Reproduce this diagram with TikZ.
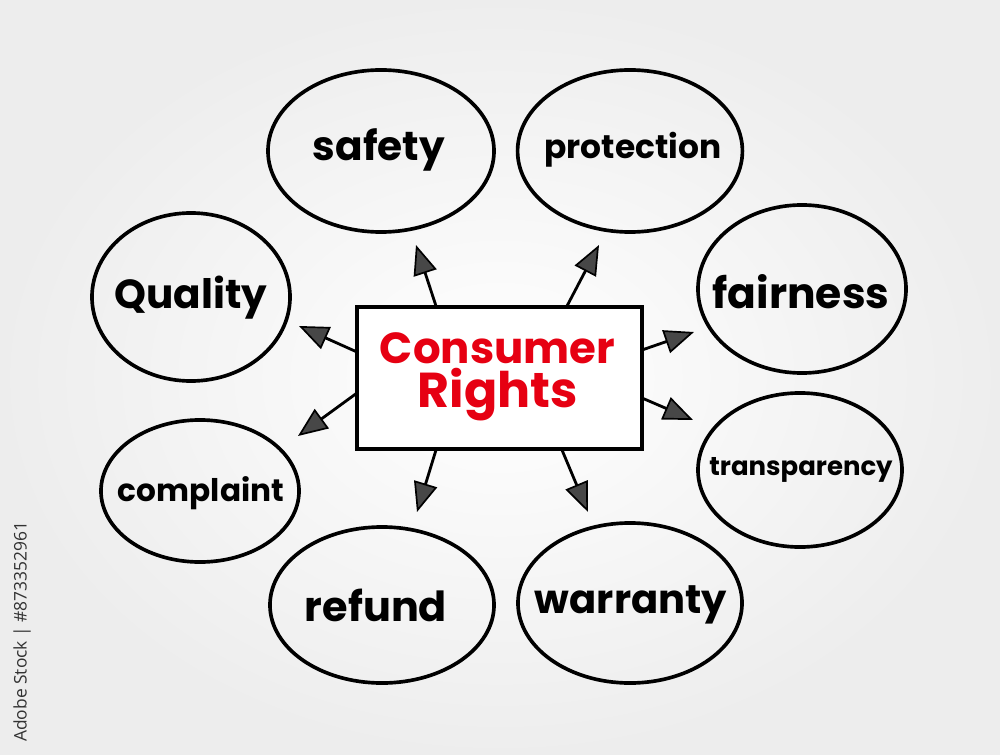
\documentclass[tikz,border=0pt]{standalone}
\usepackage{fontspec}
\setmainfont{Poppins}
\newfontfamily\sidefont{Open Sans}
\usetikzlibrary{arrows.meta,shapes.geometric}
\definecolor{cred}{RGB}{230,0,18}
\definecolor{sidegray}{RGB}{50,50,50}
\newcommand\fitw[2]{\resizebox{#1}{!}{\bfseries #2}}
\begin{document}
\begin{tikzpicture}[x=0.025cm,y=-0.025cm,
  bub/.style={draw=black, line width=2.6pt, ellipse, inner sep=0pt},
  lbl/.style={inner sep=0pt},
  arr/.style={line width=2pt, line cap=round,
    -{Triangle[length=21pt,width=17pt,fill=black!72,line width=1.2pt]}},
  ]
\useasboundingbox (0,0) rectangle (1000,755);
\shade[inner color=white,outer color=black!7] (0,0) rectangle (1000,755);

% side credit
\node[rotate=90, anchor=west, inner sep=0pt, text=sidegray] (credit) at (22,742)
  {\resizebox{5.5cm}{!}{\sidefont Adobe Stock | \#873352961}};

% bubbles
\node[bub, minimum width=5.65cm, minimum height=4.05cm] (safety) at (381,151) {};
\node[bub, minimum width=5.62cm, minimum height=4.05cm] (protection) at (630,151) {};
\node[bub, minimum width=4.95cm, minimum height=4.2cm] (quality) at (191,297) {};
\node[bub, minimum width=5.2cm, minimum height=4.2cm] (fairness) at (802,289) {};
\node[bub, minimum width=4.95cm, minimum height=3.55cm] (complaint) at (200,491) {};
\node[bub, minimum width=5.1cm, minimum height=3.85cm] (transparency) at (800,470) {};
\node[bub, minimum width=5.6cm, minimum height=3.9cm] (refund) at (382,605) {};
\node[bub, minimum width=5.6cm, minimum height=4.0cm] (warranty) at (630,603) {};

% labels
\node[lbl] (lsafety) at (379,150) {\fitw{3.3cm}{safety}};
\node[lbl] (lprotection) at (633,150) {\fitw{4.42cm}{protection}};
\node[lbl] (lquality) at (191,298) {\fitw{3.82cm}{Quality}};
\node[lbl] (lfairness) at (801,292) {\fitw{4.42cm}{fairness}};
\node[lbl] (lcomplaint) at (201,493) {\fitw{4.15cm}{complaint}};
\node[lbl] (ltransparency) at (801,470) {\fitw{4.58cm}{transparency}};
\node[lbl] (lrefund) at (376,605) {\fitw{3.55cm}{refund}};
\node[lbl] (lwarranty) at (631,605) {\fitw{4.8cm}{warranty}};

% centre
\node[draw=black, line width=2.6pt, fill=white, minimum width=7.12cm, minimum height=3.55cm, inner sep=0pt] (cr) at (499.5,378) {};
\node[anchor=base, inner sep=0pt, text=cred] (t1) at (497.5,363) {\fitw{5.88cm}{Consumer}};
\node[anchor=base, inner sep=0pt, text=cred] (t2) at (498,407) {\fitw{4.0cm}{Rights}};

% arrow start and tip points
\coordinate (s1) at (436,306); \coordinate (e1) at (416,245);
\coordinate (s2) at (567,306); \coordinate (e2) at (599,245);
\coordinate (s3) at (357,352); \coordinate (e3) at (299,326);
\coordinate (s4) at (642,350); \coordinate (e4) at (694,332);
\coordinate (s5) at (357,393); \coordinate (e5) at (298,436);
\coordinate (s6) at (642,398); \coordinate (e6) at (693,420);
\coordinate (s7) at (436,450); \coordinate (e7) at (417,512);
\coordinate (s8) at (562,450); \coordinate (e8) at (588,512);

\foreach \i in {1,...,8} \draw[arr] (s\i) -- (e\i);
\end{tikzpicture}
\end{document}
